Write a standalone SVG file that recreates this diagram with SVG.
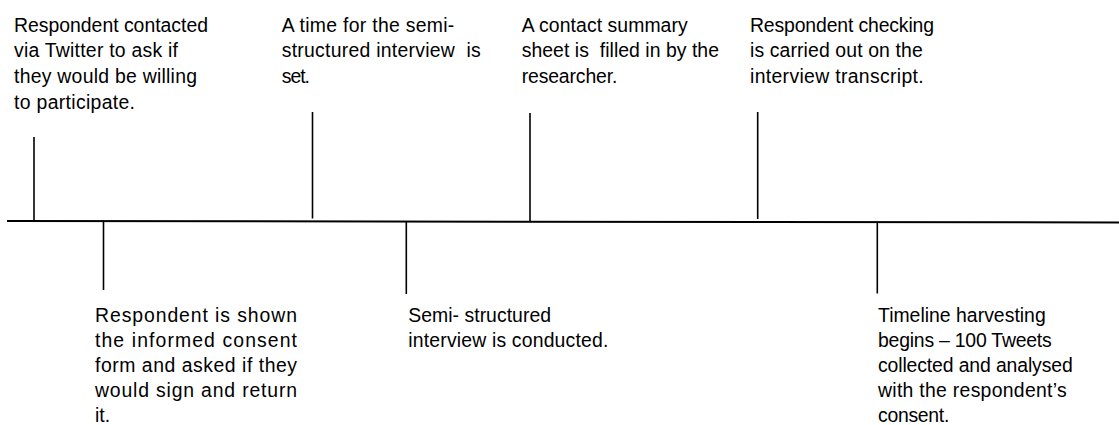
<svg xmlns="http://www.w3.org/2000/svg" width="1119" height="425" viewBox="0 0 1119 425">
<style>
.t{font-family:"Liberation Sans",Arial,sans-serif;font-size:19.4px;fill:#000;}
.tick{stroke:#000;stroke-width:1.6;fill:none;}
.axis{stroke:#000;stroke-width:2;fill:none;}
</style>
<rect width="1119" height="425" fill="#fff"/>
<g id="connectors">
<line class="axis" x1="7" y1="221" x2="1119" y2="222.5"/>
</g>
<g id="node-contacted">
<line class="tick" x1="34" y1="137" x2="34" y2="221"/>
<text class="t" x="14" y="31.5" textLength="194" lengthAdjust="spacing">Respondent contacted</text>
<text class="t" x="14" y="57.3" textLength="164" lengthAdjust="spacing">via Twitter to ask if</text>
<text class="t" x="14" y="83.1" textLength="183" lengthAdjust="spacing">they would be willing</text>
<text class="t" x="14" y="108.9" textLength="121" lengthAdjust="spacing">to participate.</text>
</g>
<g id="node-consent">
<line class="tick" x1="103.5" y1="221" x2="103.5" y2="290"/>
<text class="t" x="95" y="321.5" textLength="202" lengthAdjust="spacing">Respondent is shown</text>
<text class="t" x="95" y="346.8" textLength="202" lengthAdjust="spacing">the informed consent</text>
<text class="t" x="95" y="372.1" textLength="202" lengthAdjust="spacing">form and asked if they</text>
<text class="t" x="95" y="397.4" textLength="202" lengthAdjust="spacing">would sign and return</text>
<text class="t" x="95" y="422.2">it.</text>
</g>
<g id="node-time">
<line class="tick" x1="312.5" y1="112" x2="312.5" y2="218.5"/>
<text class="t" x="281.7" y="31.5" textLength="172.6" lengthAdjust="spacing">A time for the semi-</text>
<text class="t" x="281.7" y="57.3" textLength="199" lengthAdjust="spacing">structured interview &#160;is</text>
<text class="t" x="281.7" y="83.1" textLength="28.3" lengthAdjust="spacing">set.</text>
</g>
<g id="node-interview">
<line class="tick" x1="406.3" y1="222" x2="406.3" y2="294"/>
<text class="t" x="408.3" y="321.5" textLength="142.7" lengthAdjust="spacing">Semi- structured</text>
<text class="t" x="408.3" y="346.8" textLength="200" lengthAdjust="spacing">interview is conducted.</text>
</g>
<g id="node-summary">
<line class="tick" x1="530" y1="113" x2="530" y2="221.5"/>
<text class="t" x="521.7" y="31.5" textLength="166" lengthAdjust="spacing">A contact summary</text>
<text class="t" x="521.7" y="57.3" textLength="197.3" lengthAdjust="spacing">sheet is &#160;filled in by the</text>
<text class="t" x="521.7" y="83.1" textLength="95.6" lengthAdjust="spacing">researcher.</text>
</g>
<g id="node-checking">
<line class="tick" x1="757.7" y1="112" x2="757.7" y2="219"/>
<text class="t" x="750" y="31.5" textLength="184" lengthAdjust="spacing">Respondent checking</text>
<text class="t" x="750" y="57.3" textLength="172.7" lengthAdjust="spacing">is carried out on the</text>
<text class="t" x="750" y="83.1" textLength="173.7" lengthAdjust="spacing">interview transcript.</text>
</g>
<g id="node-harvesting">
<line class="tick" x1="877.3" y1="222.5" x2="877.3" y2="293.5"/>
<text class="t" x="878" y="321.5" textLength="167.7" lengthAdjust="spacing">Timeline harvesting</text>
<text class="t" x="878" y="346.8" textLength="173.7" lengthAdjust="spacing">begins – 100 Tweets</text>
<text class="t" x="878" y="372.1" textLength="194.7" lengthAdjust="spacing">collected and analysed</text>
<text class="t" x="878" y="397.4" textLength="188.7" lengthAdjust="spacing">with the respondent’s</text>
<text class="t" x="878" y="422.2" textLength="71.3" lengthAdjust="spacing">consent.</text>
</g>
</svg>
